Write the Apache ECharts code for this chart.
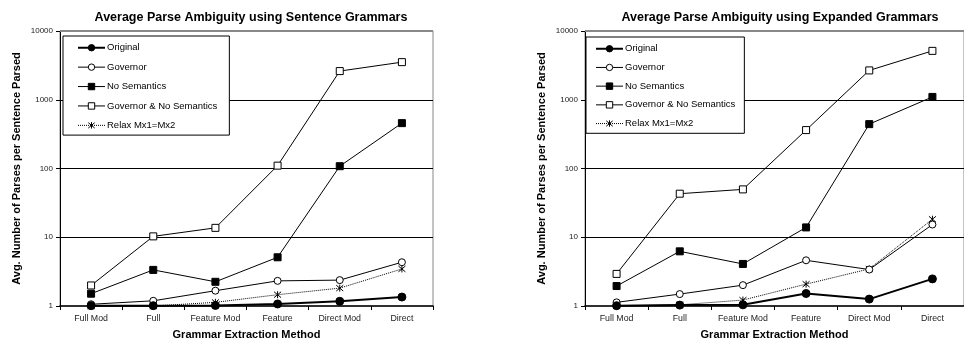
<!DOCTYPE html>
<html>
<head>
<meta charset="utf-8">
<script src="https://cdn.jsdelivr.net/npm/echarts@6/dist/echarts.min.js"></script>
<style>
  html, body { margin: 0; padding: 0; background: #fff; }
  #chart { width: 964px; height: 345px; }
</style>
</head>
<body>
<div id="chart"></div>
<script>
// Grammar extraction methods along the x axis
const categories = ['Full Mod', 'Full', 'Feature Mod', 'Feature', 'Direct Mod', 'Direct'];

// Average parses per sentence, sentence grammars
const sentOriginal  = [1.01, 1.01, 1.02, 1.07, 1.17, 1.35];
const sentGovernor  = [1.06, 1.19, 1.67, 2.32, 2.38, 4.33];
const sentNoSem     = [1.51, 3.35, 2.25, 5.11, 108, 457];
const sentGovNoSem  = [1.99, 10.3, 13.7, 110, 2612, 3523];
const sentRelax     = [1.0, 1.0, 1.13, 1.46, 1.82, 3.46];

// Average parses per sentence, expanded grammars
const expOriginal   = [1.01, 1.03, 1.04, 1.52, 1.26, 2.48];
const expGovernor   = [1.13, 1.49, 2.01, 4.62, 3.39, 15.3];
const expNoSem      = [1.95, 6.24, 4.09, 13.9, 442, 1099];
const expGovNoSem   = [2.93, 43, 49.7, 362, 2671, 5140];
const expRelax      = [1.0, 1.04, 1.22, 2.08, 3.46, 18.3];

// Log axis tick values
const yTicks = [1, 10, 100, 1000, 10000];

const seriesNames = ['Original', 'Governor', 'No Semantics', 'Governor & No Semantics', 'Relax Mx1=Mx2'];
const titles = ['Average Parse Ambiguity using Sentence Grammars', 'Average Parse Ambiguity using Expanded Grammars'];

const FONT = '"Liberation Sans", Arial, sans-serif';
const asterisk = 'path://M0,0L10,10M10,0L0,10M5,-1L5,11';

const styles = [
  { symbol: 'circle', size: 8, fill: '#000', width: 2, type: 'solid' },
  { symbol: 'circle', size: 7, fill: '#fff', width: 1, type: 'solid' },
  { symbol: 'rect', size: 7, fill: '#000', width: 1, type: 'solid' },
  { symbol: 'rect', size: 7, fill: '#fff', width: 1, type: 'solid' },
  { symbol: asterisk, size: 7, fill: 'none', width: 1, type: 'dotted' }
];

function makeSeries(gridIdx, values) {
  return values.map((vals, i) => {
    const s = styles[i];
    const ser = {
      name: seriesNames[i],
      type: 'line',
      xAxisIndex: gridIdx,
      yAxisIndex: gridIdx,
      data: vals,
      symbol: s.symbol,
      symbolSize: s.size,
      showAllSymbol: true,
      z: 10 - i,
      lineStyle: { color: '#000', width: s.width, type: s.type },
      itemStyle: { color: s.fill, borderColor: '#000', borderWidth: 1 },
      emphasis: { disabled: true },
      animation: false
    };
    if (i === 0) {
      ser.markLine = {
        silent: true,
        symbol: 'none',
        label: { show: false },
        lineStyle: { color: '#888', width: 2, type: 'solid' },
        data: [{ yAxis: yTicks[yTicks.length - 1] }]
      };
    }
    return ser;
  });
}

const grids = [
  { left: 60, right: 531, top: 31, bottom: 38 },
  { left: 585, right: -2, top: 31, bottom: 38 }
];

const legendData = seriesNames.map((name, i) => ({
  name: name,
  lineStyle: { width: styles[i].width, type: styles[i].type, color: '#000' },
  itemStyle: { color: styles[i].fill, borderColor: '#000', borderWidth: 1 }
}));

const option = {
  animation: false,
  backgroundColor: '#fff',
  title: titles.map((t, i) => ({
    text: t,
    left: i === 0 ? 246 : 775,
    top: 6,
    textAlign: 'center',
    textStyle: { fontFamily: FONT, fontSize: 12.5, fontWeight: 'bold', color: '#000' }
  })),
  legend: [
    { left: 63, top: 36, padding: [6, 12, 4, 14], gap: 7.9 },
    { left: 586, top: 37, padding: [6, 9, 4, 9], gap: 7.2 }
  ].map(l => ({
    left: l.left, top: l.top,
    orient: 'vertical',
    data: legendData,
    padding: l.padding,
    itemWidth: 27,
    itemHeight: 8,
    itemGap: l.gap,
    borderColor: '#000',
    borderWidth: 1,
    backgroundColor: '#fff',
    selectedMode: false,
    textStyle: { fontFamily: FONT, fontSize: 9.5, color: '#000', lineHeight: 11.5, padding: [0, 0, 0, -3] }
  })),
  grid: grids.map(g => Object.assign({ show: true, borderColor: '#888', borderWidth: 1, backgroundColor: '#fff' }, g)),
  xAxis: [0, 1].map(i => ({
    type: 'category',
    gridIndex: i,
    data: categories,
    boundaryGap: true,
    name: 'Grammar Extraction Method',
    nameLocation: 'middle',
    nameGap: 23,
    nameTextStyle: { fontFamily: FONT, fontSize: 11, fontWeight: 'bold', color: '#000' },
    axisLine: { lineStyle: { color: '#000', width: 1.5 } },
    axisTick: { show: true, length: 4, inside: false, lineStyle: { color: '#000' } },
    axisLabel: { fontFamily: FONT, fontSize: 8.8, color: '#222', margin: 8, interval: 0 },
    splitLine: { show: false }
  })),
  yAxis: [0, 1].map(i => ({
    type: 'log',
    logBase: 10,
    gridIndex: i,
    min: yTicks[0],
    max: yTicks[yTicks.length - 1],
    name: 'Avg. Number of Parses per Sentence Parsed',
    nameLocation: 'middle',
    nameGap: 38,
    nameTextStyle: { fontFamily: FONT, fontSize: 11, fontWeight: 'bold', color: '#000' },
    axisLine: { show: true, lineStyle: { color: '#000', width: 1 } },
    axisTick: { show: true, length: 4, lineStyle: { color: '#000' } },
    axisLabel: { fontFamily: FONT, fontSize: 8, color: '#222', margin: 7, formatter: v => String(Math.round(v)) },
    splitLine: { show: true, showMinLine: false, showMaxLine: false, lineStyle: { color: '#000', width: 1 } },
    minorTick: { show: false },
    minorSplitLine: { show: false }
  })),
  series: [
    ...makeSeries(0, [sentOriginal, sentGovernor, sentNoSem, sentGovNoSem, sentRelax]),
    ...makeSeries(1, [expOriginal, expGovernor, expNoSem, expGovNoSem, expRelax])
  ]
};

const chart = echarts.init(document.getElementById('chart'), null, { renderer: 'canvas' });
chart.setOption(option);
</script>
</body>
</html>
